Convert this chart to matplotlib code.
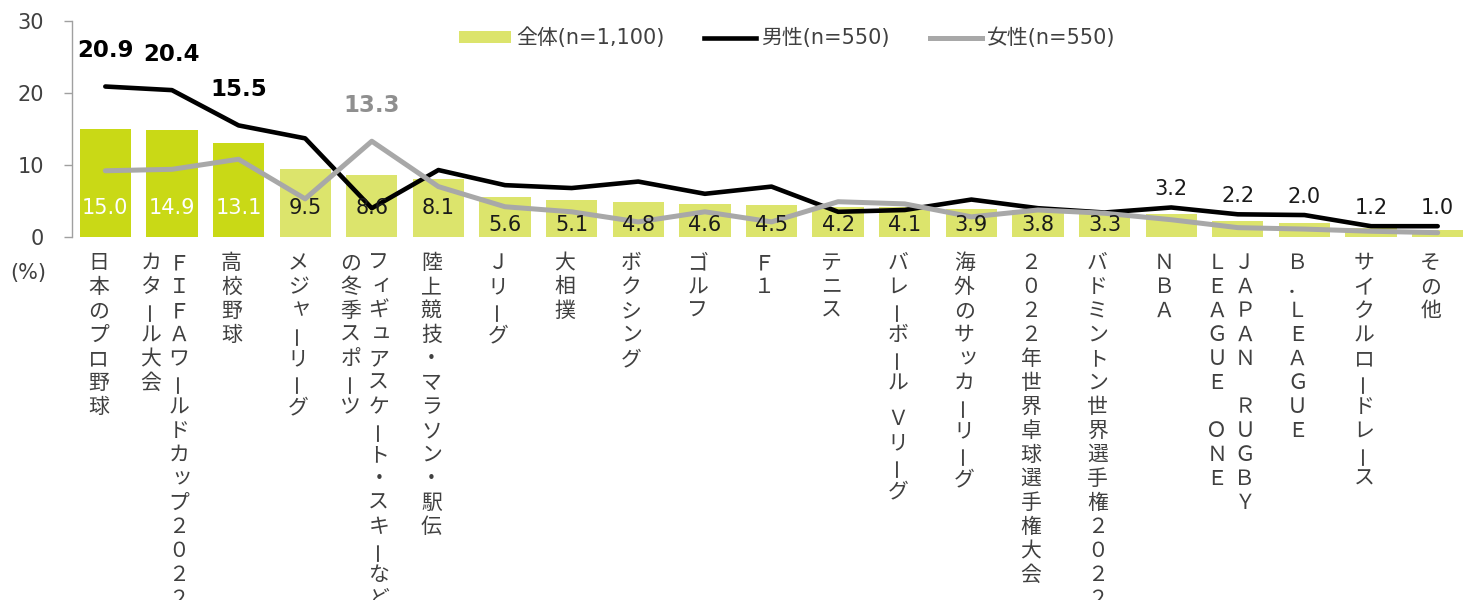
import matplotlib
matplotlib.use("Agg")
import matplotlib.pyplot as plt
from matplotlib.transforms import ScaledTranslation, blended_transform_factory
from matplotlib.patches import Patch
from matplotlib.lines import Line2D

plt.rcParams['font.family'] = ['DejaVu Sans', 'Noto Sans CJK JP']

# ---------------- data ----------------
categories = [
    "日本のプロ野球",
    "ＦＩＦＡワールドカップ２０２２\nカタール大会",
    "高校野球",
    "メジャーリーグ",
    "フィギュアスケート・スキーなど\nの冬季スポーツ",
    "陸上競技・マラソン・駅伝",
    "Ｊリーグ",
    "大相撲",
    "ボクシング",
    "ゴルフ",
    "Ｆ１",
    "テニス",
    "バレーボール Ｖリーグ",
    "海外のサッカーリーグ",
    "２０２２年世界卓球選手権大会",
    "バドミントン世界選手権２０２２",
    "ＮＢＡ",
    "ＪＡＰＡＮ　ＲＵＧＢＹ\nＬＥＡＧＵＥ　ＯＮＥ",
    "Ｂ．ＬＥＡＧＵＥ",
    "サイクルロードレース",
    "その他",
]
total = [15.0, 14.9, 13.1, 9.5, 8.6, 8.1, 5.6, 5.1, 4.8, 4.6, 4.5,
         4.2, 4.1, 3.9, 3.8, 3.3, 3.2, 2.2, 2.0, 1.2, 1.0]
male = [20.9, 20.4, 15.5, 13.7, 4.0, 9.3, 7.2, 6.8, 7.7, 6.0, 7.0,
        3.5, 3.75, 5.2, 4.0, 3.4, 4.1, 3.15, 3.05, 1.5, 1.5]
female = [9.2, 9.4, 10.8, 5.3, 13.3, 7.0, 4.2, 3.5, 2.1, 3.5, 2.1,
          4.9, 4.6, 2.8, 3.75, 3.3, 2.4, 1.3, 1.1, 0.8, 0.6]
legend_labels = ["全体(n=1,100)", "男性(n=550)", "女性(n=550)"]
yticks = [0, 10, 20, 30]
unit_label = "(%)"

# ---------------- style ----------------
DARK = '#c9d916'
LIGHT = '#dce46c'
MALE_C = '#000000'
FEMALE_C = '#a8a8a8'
TXT = '#404040'
n_top = 3

fig = plt.figure(figsize=(14.74, 6), dpi=100)
W, H = 1474, 600
ax = fig.add_axes([72 / W, 1 - 237 / H, (1471 - 72) / W, (237 - 21) / H])

x = list(range(len(categories)))
bar_colors = [DARK if i < n_top else LIGHT for i in x]
ax.bar(x, total, width=0.77, color=bar_colors, zorder=1)
ax.plot(x, male, color=MALE_C, lw=3.3, solid_joinstyle='round',
        solid_capstyle='round', zorder=3)
ax.plot(x, female, color=FEMALE_C, lw=3.6, solid_joinstyle='round',
        solid_capstyle='round', zorder=4)

ax.set_xlim(-0.5, len(categories) - 0.5)
ax.set_ylim(0, 30)
ax.set_yticks(yticks)
ax.set_yticklabels([str(t) for t in yticks])
ax.tick_params(axis='y', direction='out', length=6, width=1, color='#a0a0a0',
               labelsize=15, labelcolor=TXT, pad=14)
ax.tick_params(axis='x', length=0, labelbottom=False)
for s in ['top', 'right', 'bottom']:
    ax.spines[s].set_visible(False)
ax.spines['left'].set_color('#a0a0a0')
ax.spines['left'].set_linewidth(1)

# bar value labels
for i, v in enumerate(total):
    if i >= len(total) - 5:
        ax.annotate(f"{v:.1f}", (i, male[i]), xytext=(0, 13),
                    textcoords='offset points', ha='center', va='center',
                    fontsize=15, color='#1a1a1a', zorder=6)
    else:
        ypos = 4.0 if v >= 8 else 1.7
        col = 'white' if i < n_top else '#1a1a1a'
        ax.text(i, ypos, f"{v:.1f}", ha='center', va='center', fontsize=15,
                color=col, zorder=6)

# highlighted line labels
for i in range(n_top):
    ax.annotate(f"{male[i]:.1f}", (i, male[i]), xytext=(0, 26),
                textcoords='offset points', ha='center', va='center',
                fontsize=16.5, fontweight='bold', color='black', zorder=6)
imax = female.index(max(female))
ax.annotate(f"{female[imax]:.1f}", (imax, female[imax]), xytext=(0, 26),
            textcoords='offset points', ha='center', va='center',
            fontsize=16.5, fontweight='bold', color='#8f8f8f', zorder=6)

# vertical category labels
base = blended_transform_factory(ax.transData, ax.transAxes)
small_kana = set("ァィゥェォッャュョ")
for i, lab in enumerate(categories):
    cols = lab.split('\n')
    n = len(cols)
    for c, col in enumerate(cols):
        dx = -7 + (n - 1) * 14 - c * 28
        pos = 0
        for ch in col:
            adv = 12 if ord(ch) < 128 else 24
            cy = 14 + pos + adv / 2
            pos += adv
            if ch.strip() == '' or ch == '\u3000':
                continue
            ddx, ddy = dx, cy
            rot = 0
            if ch == 'ー':
                rot = 90
            if ch in small_kana:
                ddx += 3
                ddy -= 3
            tr = base + ScaledTranslation(ddx / 100, -ddy / 100, fig.dpi_scale_trans)
            ax.text(i, 0, ch, transform=tr, ha='center', va='center',
                    rotation=rot, fontsize=15, color=TXT,
                    family=['Noto Sans CJK JP', 'DejaVu Sans'], clip_on=False)

fig.text(28 / W, 1 - 273 / H, unit_label, ha='center', va='center',
         fontsize=15, color=TXT)

handles = [Patch(facecolor=LIGHT, edgecolor='none'),
           Line2D([], [], color=MALE_C, lw=3.3),
           Line2D([], [], color=FEMALE_C, lw=3.6)]
fig.legend(handles, legend_labels, loc='center', bbox_to_anchor=(0.534, 1 - 38 / H),
           ncol=3, frameon=False, fontsize=15, handlelength=2.5,
           handleheight=0.55, handletextpad=0.25, columnspacing=1.9,
           labelcolor=TXT)

fig.savefig('out.png', dpi=100)
